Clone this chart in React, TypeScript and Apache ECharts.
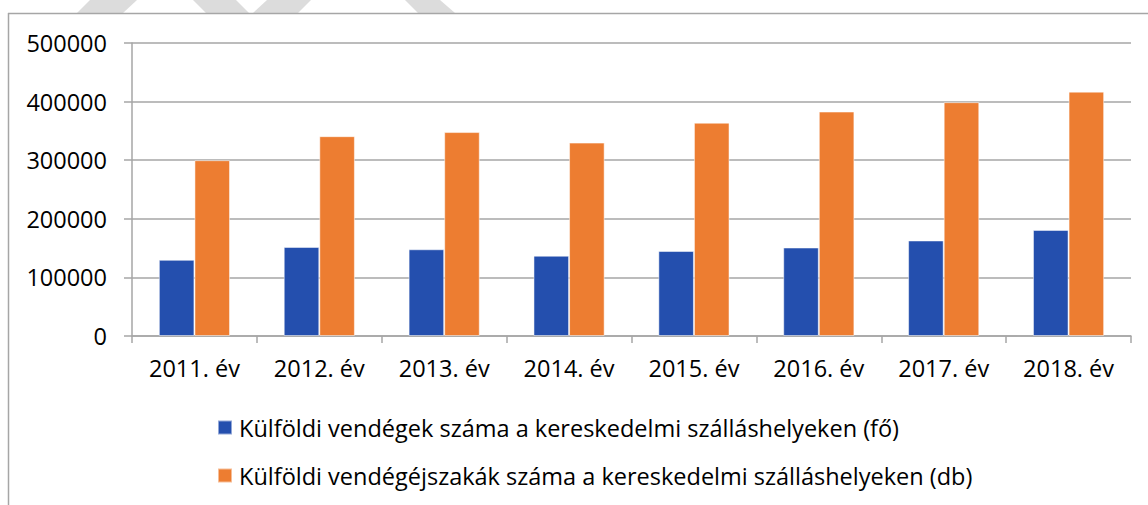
import React, { useEffect, useRef } from "react";
import * as echarts from "echarts";

const categories = ["2011. év", "2012. év", "2013. év", "2014. év", "2015. év", "2016. év", "2017. év", "2018. év"];
const guests = [130000, 152000, 148000, 137000, 145000, 151000, 163000, 181000];
const nights = [300000, 341000, 348000, 330000, 364000, 383000, 399000, 417000];
const seriesNames = [
  "Külföldi vendégek száma a kereskedelmi szálláshelyeken (fő)",
  "Külföldi vendégéjszakák száma a kereskedelmi szálláshelyeken (db)",
];

const FONT = "'Open Sans', sans-serif";

export default function App() {
  const ref = useRef<HTMLDivElement>(null);
  useEffect(() => {
    if (!ref.current) return;
    const chart = echarts.init(ref.current, null, { renderer: "svg" });
    const wm = "#dcdcdc";
    chart.setOption({
      animation: false,
      backgroundColor: "#fff",
      textStyle: { fontFamily: FONT },
      graphic: [
        { type: "polygon", shape: { points: [[90, 0], [137, 0], [123, 13], [77, 13]] }, style: { fill: wm }, silent: true },
        { type: "polygon", shape: { points: [[193, 0], [236, 0], [249, 13], [206, 13]] }, style: { fill: wm }, silent: true },
        { type: "polygon", shape: { points: [[267, 0], [311, 0], [298, 13], [253, 13]] }, style: { fill: wm }, silent: true },
        { type: "polygon", shape: { points: [[405, 0], [440, 0], [455, 13], [418, 13]] }, style: { fill: wm }, silent: true },
        { type: "line", shape: { x1: 8, y1: 13.5, x2: 1148, y2: 13.5 }, style: { stroke: "#a6a6a6", lineWidth: 1.5 }, silent: true },
        { type: "line", shape: { x1: 8.5, y1: 13, x2: 8.5, y2: 505 }, style: { stroke: "#a6a6a6", lineWidth: 1.5 }, silent: true },
      ],
      grid: { left: 132, right: 17, top: 43, bottom: 169, containLabel: false },
      legend: {
        orient: "vertical",
        left: 217,
        top: 414,
        padding: 0,
        icon: "rect",
        itemWidth: 14,
        itemHeight: 14,
        itemGap: 21,
        textStyle: { fontFamily: FONT, fontSize: 23.5, color: "#000", lineHeight: 27, padding: [0, 0, 0, 2] },
        data: seriesNames,
      },
      xAxis: {
        type: "category",
        data: categories,
        axisLine: { show: true, lineStyle: { color: "#a6a6a6", width: 1.5 } },
        axisTick: { show: true, length: 7, lineStyle: { color: "#a6a6a6", width: 1.5 } },
        axisLabel: { fontFamily: FONT, fontSize: 23.5, color: "#000", margin: 20 },
      },
      yAxis: {
        type: "value",
        min: 0,
        max: 500000,
        interval: 100000,
        axisLine: { show: true, lineStyle: { color: "#a6a6a6", width: 1.5 } },
        axisTick: { show: true, length: 8, lineStyle: { color: "#a6a6a6", width: 1.5 } },
        splitLine: { show: true, lineStyle: { color: "#a6a6a6", width: 1.5 } },
        axisLabel: { fontFamily: FONT, fontSize: 23.5, color: "#000", margin: 25, formatter: (v: number) => String(v) },
      },
      series: [
        {
          name: seriesNames[0],
          type: "bar",
          data: guests,
          barGap: "0%",
          barCategoryGap: "43%",
          itemStyle: { color: "#244fae", borderColor: "rgba(255,255,255,0.5)", borderWidth: 1 },
        },
        {
          name: seriesNames[1],
          type: "bar",
          data: nights,
          barGap: "0%",
          barCategoryGap: "43%",
          itemStyle: { color: "#ed7d31", borderColor: "rgba(255,255,255,0.5)", borderWidth: 1 },
        },
      ],
    });
    return () => chart.dispose();
  }, []);
  return (
    <div
      ref={ref}
      style={{ position: "fixed", left: 0, top: 0, width: 1148, height: 505, background: "#fff" }}
    />
  );
}
